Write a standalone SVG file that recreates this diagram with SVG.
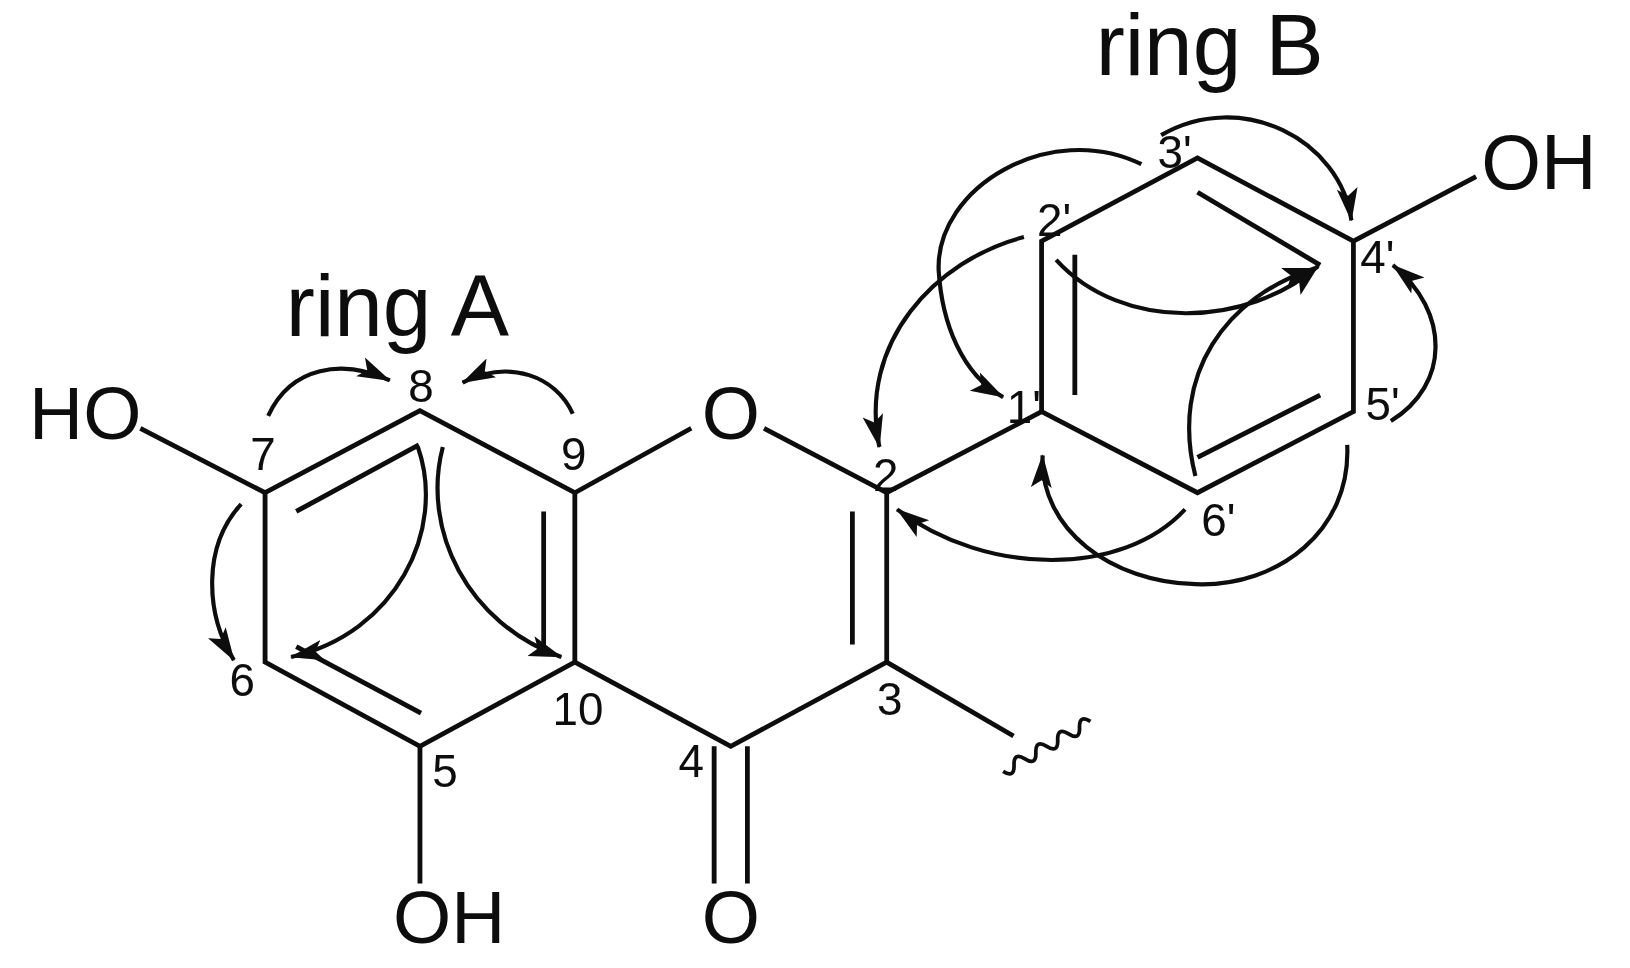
<svg xmlns="http://www.w3.org/2000/svg" width="1630" height="968" viewBox="0 0 1630 968">
<style>
.b{fill:none;stroke:#0a0a0a;stroke-width:4.6;stroke-linecap:butt;stroke-linejoin:miter}
.a{fill:none;stroke:#0a0a0a;stroke-width:4;marker-end:url(#ah)}
text{font-family:"Liberation Sans",Arial,sans-serif;fill:#0a0a0a}
.n{font-size:44px;text-anchor:middle}
.t{font-size:84px}
.r{font-size:72px}
</style>
<defs>
<marker id="ah" markerUnits="userSpaceOnUse" viewBox="0 0 32 24" refX="31" refY="12" markerWidth="32" markerHeight="24" orient="auto"><path d="M32,12 L0,2 L7,12 L0,22 Z" fill="#0a0a0a"/></marker>
<filter id="soft" x="0" y="0" width="100%" height="100%"><feGaussianBlur stdDeviation="0.7"/></filter>
</defs>
<rect width="1630" height="968" fill="#fff"/>
<g transform="scale(1.0395)" filter="url(#soft)">
<g id="bonds">
<path class="b" d="M404,395 L255,474 L255,637 L404,718 L553,637 L553,474 Z"/>
<path class="b" d="M553,474 L665,412 M735,412 L853,474 L853,637 L703,718 L553,637"/>
<path class="b" d="M135,412 L255,474 M404,718 V850 M853,474 L1002,396 M853,637 L975,708"/>
<path class="b" d="M1002,396 V232 L1152,152 L1302,232 V396 L1152,474 Z M1302,232 L1420,170"/>
<path class="b" d="M285,492 L403,428 M405,686 L285,622 M523,492 V625 M820,492 V620 M687,718 V850 M719,718 V850 M1034,245 V380 M1152,185 L1270,255 M1152,440 L1270,380"/>
<path class="b" style="stroke-width:3.6" d="M965,742 Q976,749 975.5,736 Q975,723 986,730 Q997,737 996.5,724 Q996,711 1007,718 Q1018,725 1017.5,712 Q1017,699 1028,706 Q1039,713 1038.5,700 Q1038,687 1049,694"/>
</g>
<g id="connectors">
<path class="a" d="M258,400 C280,352 330,345 375,366"/>
<path class="a" d="M551,398 C535,362 490,345 445,368"/>
<path class="a" d="M232,485 C195,525 197,590 225,635"/>
<path class="a" d="M402,430 C430,510 380,610 280,632"/>
<path class="a" d="M426,430 C405,510 450,600 540,632"/>
<path class="a" d="M985,228 C900,250 825,330 846,430"/>
<path class="a" d="M1098,158 C1010,115 900,180 903,260 C906,310 925,360 965,382"/>
<path class="a" d="M1117,130 C1195,85 1290,135 1300,212"/>
<path class="a" d="M1016,250 C1080,320 1200,315 1268,256"/>
<path class="a" d="M1150,458 C1125,360 1180,285 1265,258"/>
<path class="a" d="M1338,405 C1395,370 1395,300 1340,255"/>
<path class="a" d="M1296,428 C1300,510 1230,565 1150,562 C1070,560 1000,510 1003,438"/>
<path class="a" d="M1140,490 C1080,555 950,555 863,490"/>
</g>
<g id="atoms">
<text class="r" x="28" y="422">HO</text>
<text class="r" x="703" y="422" text-anchor="middle">O</text>
<text class="r" x="378" y="907">OH</text>
<text class="r" x="703" y="907" text-anchor="middle">O</text>
<text class="r" x="1425" y="182" style="font-size:74px">OH</text>
</g>
<g id="positions">
<text class="n" x="405" y="387">8</text>
<text class="n" x="253" y="452">7</text>
<text class="n" x="552" y="452">9</text>
<text class="n" x="233" y="670">6</text>
<text class="n" x="556" y="697">10</text>
<text class="n" x="428" y="757">5</text>
<text class="n" x="665" y="747">4</text>
<text class="n" x="856" y="688">3</text>
<text class="n" x="852" y="472">2</text>
<text class="n" x="985" y="407">1'</text>
<text class="n" x="1014" y="227">2'</text>
<text class="n" x="1130" y="162">3'</text>
<text class="n" x="1325" y="263">4'</text>
<text class="n" x="1330" y="404">5'</text>
<text class="n" x="1172" y="516">6'</text>
</g>
<g id="rings">
<text class="t" x="1054" y="72">ring B</text>
<text class="t" x="275" y="323">ring A</text>
</g>
</g>
</svg>
